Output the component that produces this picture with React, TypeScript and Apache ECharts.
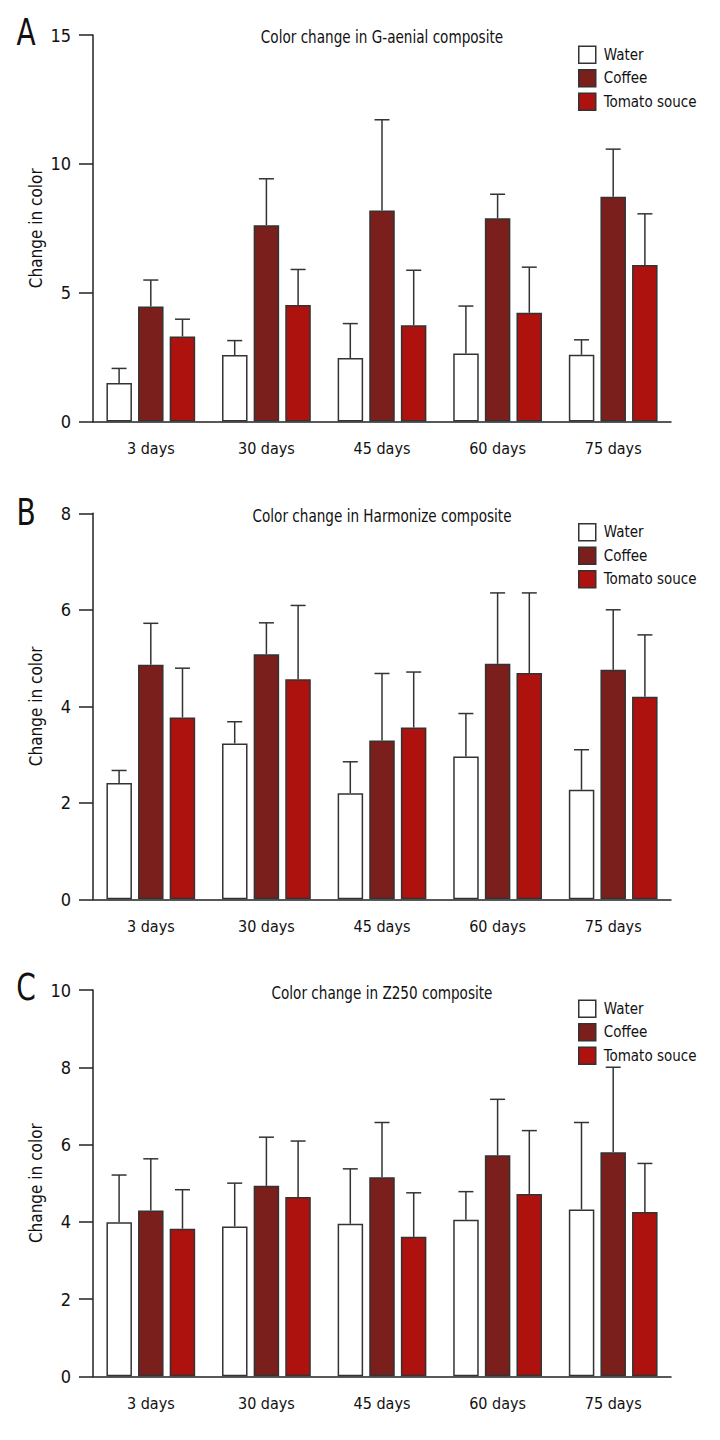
import React, { useEffect, useRef } from "react";
import * as echarts from "echarts";

const categories = ["3 days", "30 days", "45 days", "60 days", "75 days"];
const seriesNames = ["Water", "Coffee", "Tomato souce"];

// Panel A: G-aenial
const waterA = [1.49, 2.58, 2.46, 2.64, 2.59];
const coffeeA = [4.46, 7.62, 8.19, 7.89, 8.72];
const tomatoA = [3.3, 4.52, 3.74, 4.22, 6.07];
const waterA_sd = [0.57, 0.56, 1.34, 1.84, 0.58];
const coffeeA_sd = [1.03, 1.8, 3.52, 0.93, 1.85];
const tomatoA_sd = [0.67, 1.38, 2.13, 1.77, 1.99];

// Panel B: Harmonize
const waterB = [2.41, 3.23, 2.2, 2.96, 2.27];
const coffeeB = [4.86, 5.08, 3.29, 4.88, 4.76];
const tomatoB = [3.77, 4.56, 3.56, 4.69, 4.2];
const waterB_sd = [0.26, 0.45, 0.65, 0.89, 0.83];
const coffeeB_sd = [0.86, 0.65, 1.39, 1.47, 1.24];
const tomatoB_sd = [1.02, 1.53, 1.15, 1.66, 1.28];

// Panel C: Z250
const waterC = [3.99, 3.88, 3.95, 4.05, 4.32];
const coffeeC = [4.29, 4.93, 5.15, 5.72, 5.8];
const tomatoC = [3.82, 4.64, 3.61, 4.72, 4.25];
const waterC_sd = [1.22, 1.12, 1.42, 0.73, 2.25];
const coffeeC_sd = [1.34, 1.26, 1.42, 1.45, 2.2];
const tomatoC_sd = [1.01, 1.45, 1.14, 1.64, 1.26];

const titles = [
  "Color change in G-aenial composite",
  "Color change in Harmonize composite",
  "Color change in Z250 composite",
];
const panelLetters = ["A", "B", "C"];
const yMax = [15, 8, 10];
const yInterval = [5, 2, 2];
const yName = "Change in color";

const FONT = "'Liberation Sans Narrow', 'DejaVu Sans Condensed', 'Noto Sans', sans-serif";
const INK = "#222";
const FILLS = ["#ffffff", "#7a1f1c", "#ad120f"];

const panels = [
  { means: [waterA, coffeeA, tomatoA], sds: [waterA_sd, coffeeA_sd, tomatoA_sd] },
  { means: [waterB, coffeeB, tomatoB], sds: [waterB_sd, coffeeB_sd, tomatoB_sd] },
  { means: [waterC, coffeeC, tomatoC], sds: [waterC_sd, coffeeC_sd, tomatoC_sd] },
];

// layout
const gridTops = [35, 513.3, 990];
const gridHeights = [386.5, 386, 386.3];
const letterY = [32, 512, 987];
const titleY = [37, 516, 993];
const legendTops = [45.5, 523, 999.5];
const BAR_W = 25.5;
const STEP = 31.7;

export default function App() {
  const ref = useRef<HTMLDivElement>(null);

  useEffect(() => {
    if (!ref.current) return;
    const chart = echarts.init(ref.current, null, { renderer: "svg" });

    const grid: any[] = [];
    const xAxis: any[] = [];
    const yAxis: any[] = [];
    const series: any[] = [];
    const legend: any[] = [];
    const graphic: any[] = [];

    panels.forEach((p, pi) => {
      grid.push({ left: 93, right: 49, top: gridTops[pi], height: gridHeights[pi] });
      xAxis.push({
        type: "category",
        gridIndex: pi,
        data: categories,
        axisLine: { lineStyle: { color: INK, width: 1.5 } },
        axisTick: { alignWithLabel: true, length: 7, lineStyle: { color: INK, width: 1.5 } },
        axisLabel: { color: "#111", fontFamily: FONT, fontSize: 16, margin: 19 },
      });
      yAxis.push({
        type: "value",
        gridIndex: pi,
        min: 0,
        max: yMax[pi],
        interval: yInterval[pi],
        splitLine: { show: false },
        axisLine: { show: true, lineStyle: { color: INK, width: 1.5 } },
        axisTick: { show: true, length: 14, lineStyle: { color: INK, width: 1.5 } },
        axisLabel: { color: "#111", fontFamily: FONT, fontSize: 18, margin: 22 },
        name: yName,
        nameLocation: "middle",
        nameGap: 49,
        nameMoveOverlap: false,
        nameRotate: 90,
        nameTextStyle: { color: "#111", fontFamily: FONT, fontSize: 17 },
      });
      p.means.forEach((vals, si) => {
        series.push({
          type: "bar",
          name: seriesNames[si],
          xAxisIndex: pi,
          yAxisIndex: pi,
          data: vals,
          barWidth: BAR_W,
          barGap: "24%",
          z: 3,
          itemStyle: { color: FILLS[si], borderColor: "#333", borderWidth: 1.5 },
        });
      });
      p.means.forEach((vals, si) => {
        const offset = (si - 1) * STEP;
        series.push({
          type: "custom",
          xAxisIndex: pi,
          yAxisIndex: pi,
          z: 1,
          data: vals.map((v, i) => [i, v, p.sds[si][i]]),
          encode: { x: 0, y: 1 },
          renderItem: (params: any, api: any) => {
            const idx = api.value(0);
            const m = api.value(1);
            const sd = api.value(2);
            const base = api.coord([idx, m]);
            const top = api.coord([idx, m + sd]);
            const x = base[0] + offset;
            const st = { stroke: "#333", lineWidth: 1.5 };
            return {
              type: "group",
              children: [
                { type: "line", shape: { x1: x, y1: base[1], x2: x, y2: top[1] }, style: st },
                { type: "line", shape: { x1: x - 7.5, y1: top[1], x2: x + 7.5, y2: top[1] }, style: st },
              ],
            };
          },
        });
      });
      legend.push({
        orient: "vertical",
        left: 578,
        top: legendTops[pi],
        padding: 0,
        itemWidth: 17,
        itemHeight: 17,
        itemGap: 5,
        icon: "rect",
        textStyle: { color: "#111", fontFamily: FONT, fontSize: 15, lineHeight: 17, padding: [0, 0, 0, 3] },
        data: seriesNames.map((n, si) => ({
          name: n,
          itemStyle: { color: FILLS[si], borderColor: "#333", borderWidth: 1.5 },
        })),
        selectedMode: false,
      });
      graphic.push({
        type: "text",
        x: 26,
        y: letterY[pi],
        scaleX: 0.82,
        style: {
          text: panelLetters[pi],
          fontFamily: FONT,
          fontSize: 38,
          fill: "#111",
          textAlign: "center",
          textVerticalAlign: "middle",
        },
      });
      graphic.push({
        type: "text",
        x: 382,
        y: titleY[pi],
        scaleX: 0.84,
        style: {
          text: titles[pi],
          fontFamily: FONT,
          fontSize: 18,
          fill: "#111",
          textAlign: "center",
          textVerticalAlign: "middle",
        },
      });
    });

    chart.setOption({
      animation: false,
      backgroundColor: "#ffffff",
      grid,
      xAxis,
      yAxis,
      series,
      legend,
      graphic,
    });

    return () => chart.dispose();
  }, []);

  return (
    <div
      ref={ref}
      style={{ position: "absolute", left: 0, top: 0, width: 720, height: 1440, background: "#fff" }}
    />
  );
}
